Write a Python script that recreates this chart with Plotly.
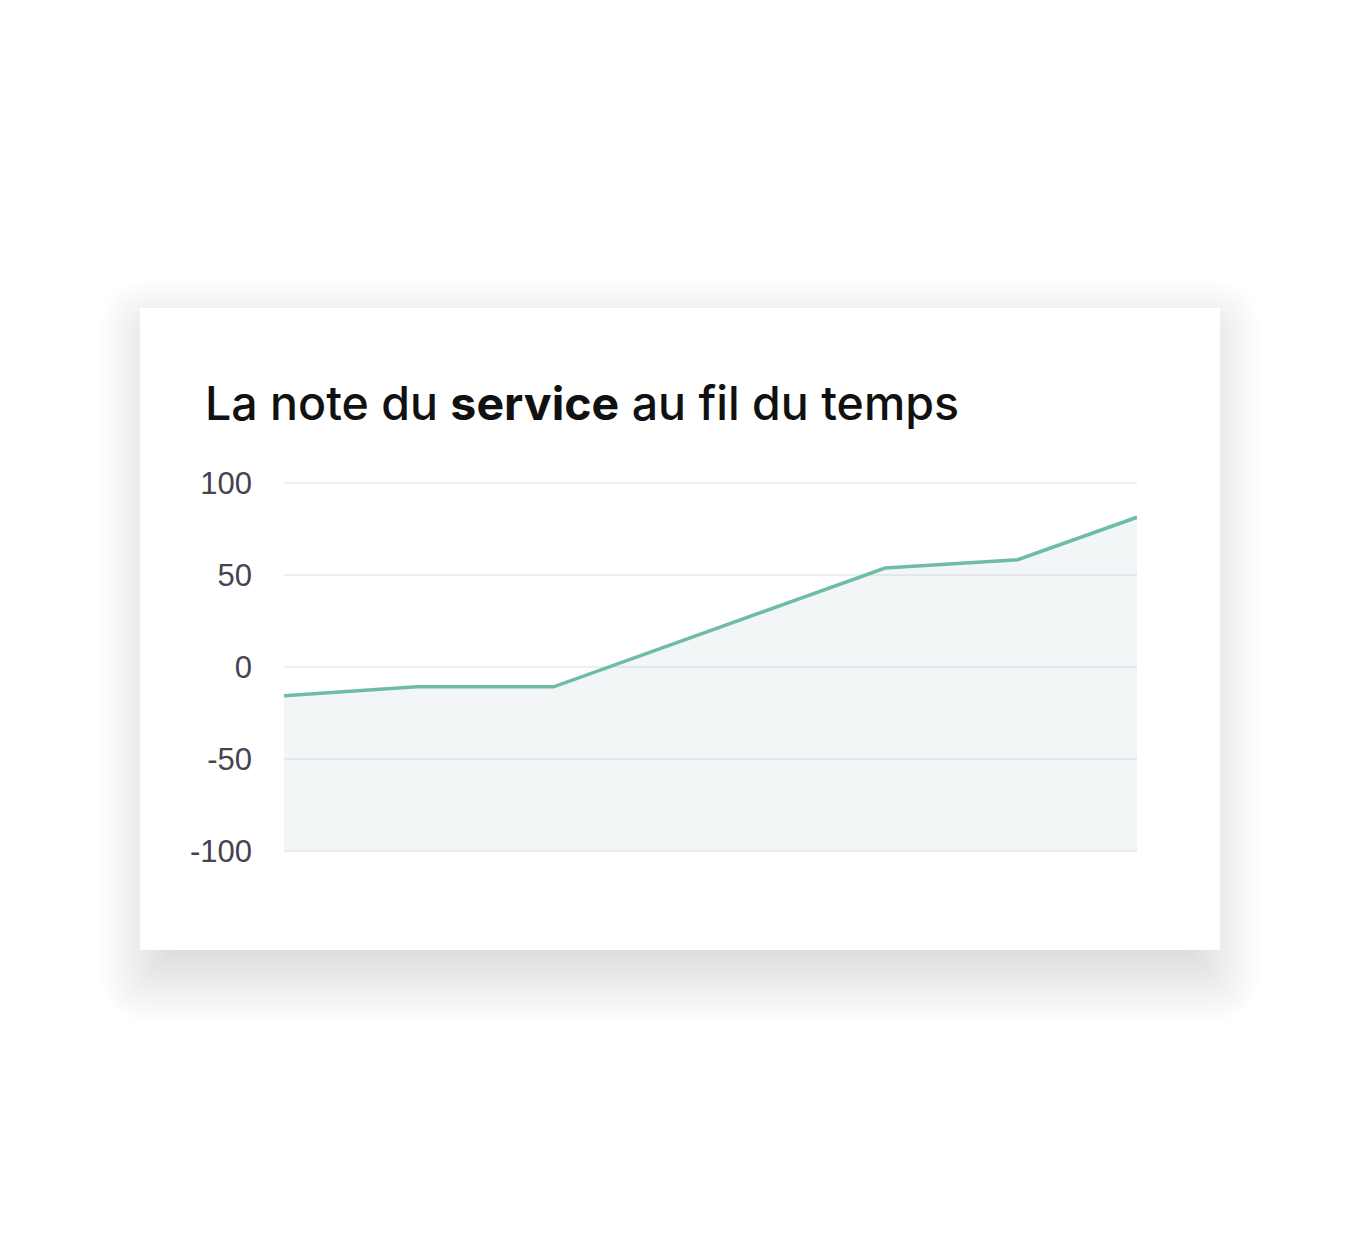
import plotly.graph_objects as go

# chart data
dates = ["2023-01-01", "2023-01-31", "2023-03-03", "2023-05-17", "2023-06-16", "2023-07-13"]
scores = [-15.6, -10.8, -10.8, 53.9, 58.4, 81.5]
floor = [-100] * len(dates)
y_ticks = [100, 50, 0, -50, -100]
y_labels = ["100", "50", "0", "-50", "-100"]

W, H = 1360, 1260
OFF = 8  # page body margin


def px(x):
    return (x - OFF) / W


def py(y):
    return 1 - (y - OFF) / H


def rounded_rect(x0, y0, x1, y1, r):
    """SVG path (paper coords) for a rectangle with rounded corners, given in pixels."""
    r = max(r, 0.5)
    pts = [
        f"M {px(x0 + r)} {py(y0)}",
        f"L {px(x1 - r)} {py(y0)}",
        f"Q {px(x1)} {py(y0)} {px(x1)} {py(y0 + r)}",
        f"L {px(x1)} {py(y1 - r)}",
        f"Q {px(x1)} {py(y1)} {px(x1 - r)} {py(y1)}",
        f"L {px(x0 + r)} {py(y1)}",
        f"Q {px(x0)} {py(y1)} {px(x0)} {py(y1 - r)}",
        f"L {px(x0)} {py(y0 + r)}",
        f"Q {px(x0)} {py(y0)} {px(x0 + r)} {py(y0)}",
        "Z",
    ]
    return " ".join(pts)


# soft drop shadow behind the card, built from stacked translucent layers
shapes = []
card = (140, 308, 1220, 950)
base = (150, 330, 1210, 972)
blur = 50
n_layers = 24
for i in range(n_layers):
    r = -blur + 2 * blur * i / (n_layers - 1)
    shapes.append(dict(
        type="path",
        path=rounded_rect(base[0] - r, base[1] - r, base[2] + r, base[3] + r, max(r, 0) + 6),
        xref="paper", yref="paper",
        fillcolor="rgb(130,155,158)",
        opacity=0.017,
        line=dict(width=0),
        layer="below",
    ))

# the white card
shapes.append(dict(
    type="rect",
    x0=px(card[0]), x1=px(card[2]), y0=py(card[3]), y1=py(card[1]),
    xref="paper", yref="paper",
    fillcolor="white",
    line=dict(width=0),
    layer="below",
))

fig = go.Figure()

# invisible floor so the area fills down to -100
fig.add_trace(go.Scatter(
    x=dates, y=floor,
    mode="lines",
    line=dict(width=0),
    hoverinfo="skip",
    showlegend=False,
))

fig.add_trace(go.Scatter(
    x=dates, y=scores,
    mode="lines",
    fill="tonexty",
    fillcolor="rgba(190,210,212,0.2)",
    line=dict(color="#6dbcaa", width=3.5),
    showlegend=False,
))

fig.update_layout(
    width=W,
    height=H,
    margin=dict(l=0, r=0, t=0, b=0, autoexpand=False),
    paper_bgcolor="white",
    plot_bgcolor="rgba(0,0,0,0)",
    font=dict(family="Liberation Sans, Arial, sans-serif"),
    title=dict(
        text="La note du <b>service</b> au fil du temps",
        font=dict(family="Inter, Liberation Sans, sans-serif", size=46.5, color="#111111", weight=500),
        xref="paper", yref="paper",
        x=px(205), xanchor="left",
        y=py(404), yanchor="middle",
        automargin=False,
    ),
    xaxis=dict(
        domain=[px(284), px(1137)],
        range=[dates[0], dates[-1]],
        showgrid=False,
        zeroline=False,
        showticklabels=False,
        showline=False,
        ticks="",
        automargin=False,
    ),
    yaxis=dict(
        domain=[py(852), py(482)],
        range=[-100.7, 100.7],
        tickvals=y_ticks,
        ticktext=y_labels,
        tickfont=dict(size=31, color="#45444f"),
        ticks="",
        ticklabelstandoff=31,
        showgrid=True,
        gridcolor="#eceff0",
        gridwidth=2,
        zeroline=False,
        showline=False,
        automargin=False,
    ),
    shapes=shapes,
)

fig.write_html("out.html")
